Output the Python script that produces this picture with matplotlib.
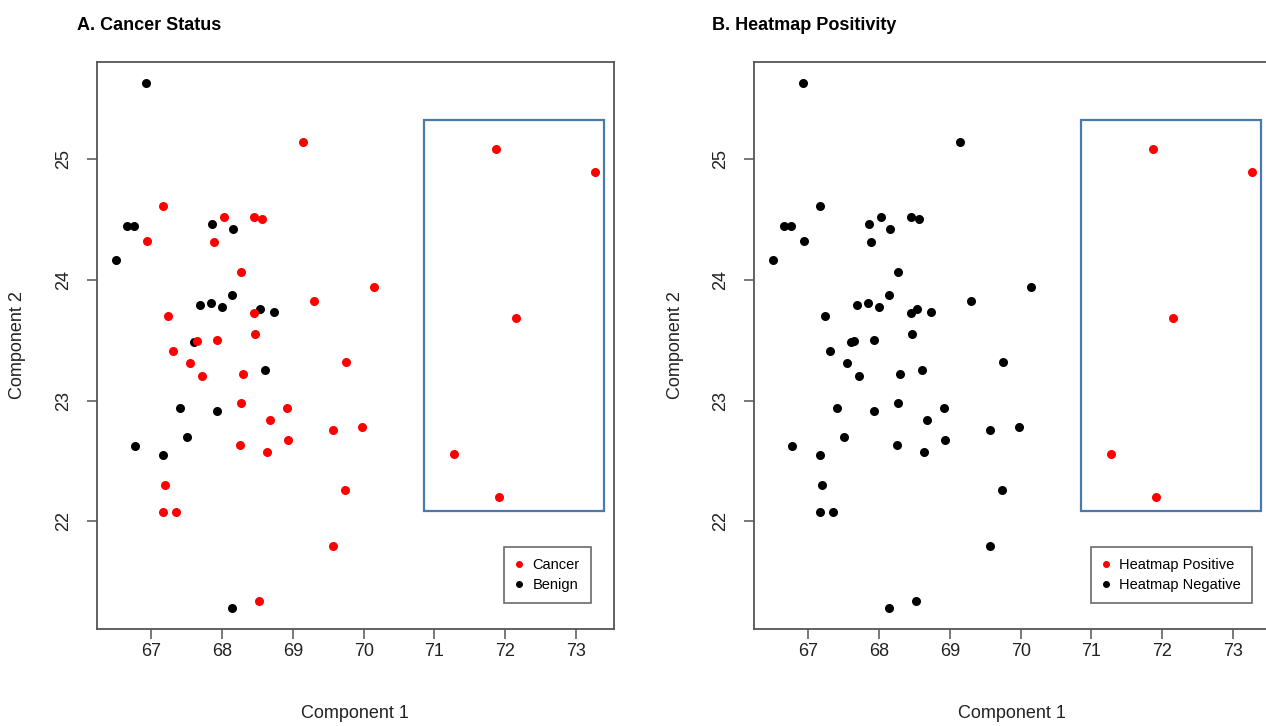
import matplotlib

matplotlib.use("Agg")
import matplotlib.pyplot as plt
from matplotlib.lines import Line2D
from matplotlib.patches import Rectangle

plt.rcParams["font.family"] = ["Liberation Sans", "DejaVu Sans"]

# component scores (same points in both)
comp1 = [
    66.92, 69.14, 67.17, 66.66, 66.75, 67.85, 68.03, 68.16, 68.45, 68.56,
    66.94, 67.88, 66.50, 68.27, 70.15, 69.30, 68.14, 67.68, 67.84, 68.00,
    68.53, 68.45, 68.73, 67.24, 68.47, 67.60, 67.64, 67.92, 67.30, 69.75,
    67.55, 68.60, 67.72, 68.29, 68.27, 67.40, 68.91, 67.92, 68.68, 69.57,
    69.98, 67.50, 68.93, 66.77, 68.25, 68.64, 67.17, 67.19, 69.73, 67.17,
    67.35, 69.57, 68.52, 68.14, 71.87, 73.27, 72.16, 71.28, 71.91,
]
comp2 = [
    25.63, 25.14, 24.61, 24.44, 24.44, 24.46, 24.52, 24.42, 24.52, 24.50,
    24.32, 24.31, 24.16, 24.06, 23.94, 23.82, 23.87, 23.79, 23.81, 23.77,
    23.76, 23.72, 23.73, 23.70, 23.55, 23.48, 23.49, 23.50, 23.41, 23.32,
    23.31, 23.25, 23.20, 23.22, 22.98, 22.94, 22.94, 22.91, 22.84, 22.76,
    22.78, 22.70, 22.67, 22.62, 22.63, 22.57, 22.55, 22.30, 22.26, 22.08,
    22.08, 21.80, 21.34, 21.28, 25.08, 24.89, 23.68, 22.56, 22.20,
]
cancer = [
    0, 1, 1, 0, 0, 0, 1, 0, 1, 1,
    1, 1, 0, 1, 1, 1, 0, 0, 0, 0,
    0, 1, 0, 1, 1, 0, 1, 1, 1, 1,
    1, 0, 1, 1, 1, 0, 1, 0, 1, 1,
    1, 0, 1, 0, 1, 1, 0, 1, 1, 1,
    1, 1, 1, 0, 1, 1, 1, 1, 1,
]
heatmap_pos = [0] * 54 + [1] * 5

# highlighted region (component 1 range, component 2 range)
box_x = (70.85, 73.40)
box_y = (22.09, 25.32)

panels = [
    ("A. Cancer Status", cancer, ["Cancer", "Benign"]),
    ("B. Heatmap Positivity", heatmap_pos, ["Heatmap Positive", "Heatmap Negative"]),
]

W, H = 1266, 726
fig = plt.figure(figsize=(W / 100, H / 100), dpi=100)

ax_left = [97, 754]
title_x = [77, 712]
legend_left = [504, 1091]

for i, (title, flag, names) in enumerate(panels):
    ax = fig.add_axes([ax_left[i] / W, 1 - 629 / H, 517 / W, 567 / H])
    xs_k = [x for x, f in zip(comp1, flag) if not f]
    ys_k = [y for y, f in zip(comp2, flag) if not f]
    xs_r = [x for x, f in zip(comp1, flag) if f]
    ys_r = [y for y, f in zip(comp2, flag) if f]
    ax.plot(xs_k, ys_k, "o", color="black", markersize=6.5, markeredgewidth=0)
    ax.plot(xs_r, ys_r, "o", color="red", markersize=6.5, markeredgewidth=0)
    ax.add_patch(
        Rectangle(
            (box_x[0], box_y[0]),
            box_x[1] - box_x[0],
            box_y[1] - box_y[0],
            fill=False,
            edgecolor="#4a7aab",
            linewidth=1.6,
        )
    )
    ax.set_xlim(66.23, 73.54)
    ax.set_ylim(21.11, 25.80)
    ax.set_xticks(range(67, 74))
    ax.set_yticks(range(22, 26))
    ax.tick_params(direction="out", length=7, width=1.1, color="#555555",
                   labelsize=13, labelcolor="#222222")
    ax.tick_params(axis="x", pad=3)
    ax.tick_params(axis="y", pad=11)
    for lab in ax.get_yticklabels():
        lab.set_rotation(90)
        lab.set_va("center")
    for s in ax.spines.values():
        s.set_color("#555555")
        s.set_linewidth(1.3)

    handles = [
        Line2D([], [], marker="o", linestyle="", color="red", markersize=4),
        Line2D([], [], marker="o", linestyle="", color="black", markersize=4),
    ]
    leg = ax.legend(
        handles, names,
        loc="upper left",
        bbox_to_anchor=(legend_left[i] / W, 1 - 547 / H),
        bbox_transform=fig.transFigure,
        fontsize=10.5,
        frameon=True,
        fancybox=False,
        handlelength=0.6,
        handletextpad=0.6,
        borderpad=0.75,
        labelspacing=0.4,
        borderaxespad=0,
    )
    leg.get_frame().set_edgecolor("#444444")
    leg.get_frame().set_linewidth(1.2)

    fig.text(title_x[i] / W, 1 - 25 / H, title, fontsize=13,
             fontweight="bold", va="center", ha="left")
    fig.text((ax_left[i] + 258) / W, 1 - 714 / H, "Component 1",
             fontsize=13, ha="center", va="center", color="#222222")
    fig.text((ax_left[i] - 79) / W, 1 - 345 / H, "Component 2",
             fontsize=13, ha="center", va="center", rotation=90,
             color="#222222")

fig.savefig("out.png", dpi=100)
